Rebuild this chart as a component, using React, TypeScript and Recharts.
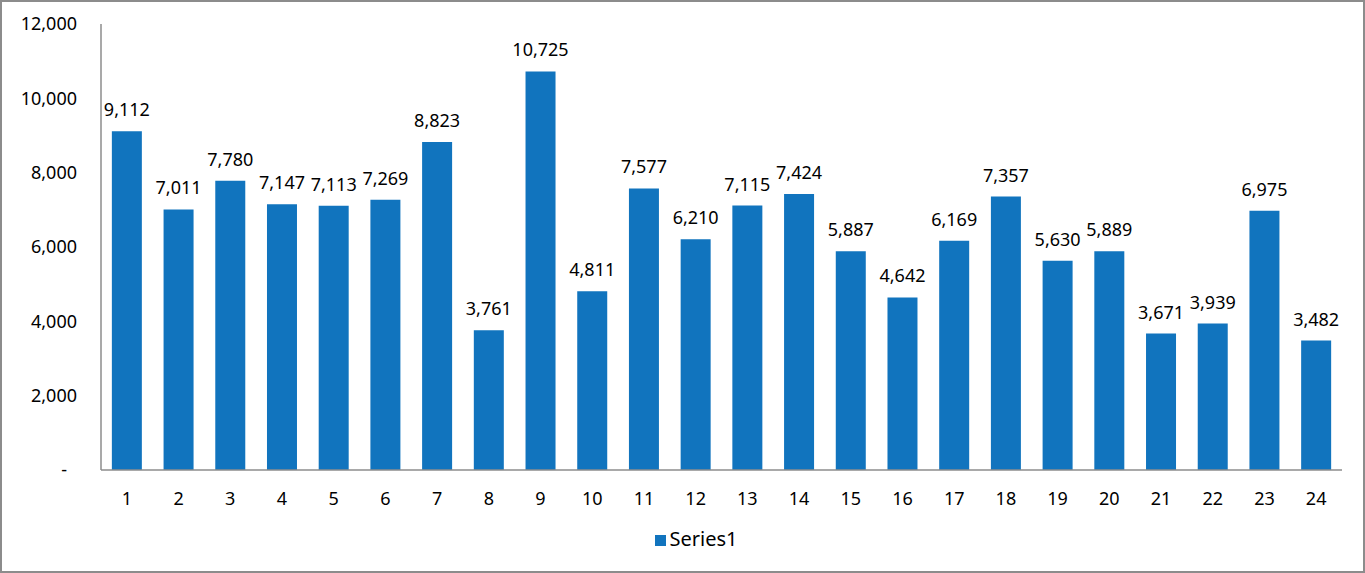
import React from "react";
import { BarChart, Bar, XAxis, YAxis, Legend, LabelList } from "recharts";

const categories = ["1","2","3","4","5","6","7","8","9","10","11","12","13","14","15","16","17","18","19","20","21","22","23","24"];
const series1 = [9112,7011,7780,7147,7113,7269,8823,3761,10725,4811,7577,6210,7115,7424,5887,4642,6169,7357,5630,5889,3671,3939,6975,3482];
const yTicks = [0,2000,4000,6000,8000,10000,12000];

const data = categories.map((c, i) => ({ name: c, Series1: series1[i] }));
const fmt = (v: number) => (v === 0 ? "-" : v.toLocaleString("en-US"));
const FONT = "'Noto Sans', sans-serif";

const YTick = (props: any) => {
  const { x, y, payload } = props;
  const zero = payload.value === 0;
  return (
    <text x={zero ? x - 10 : x} y={y} dy="0.355em" textAnchor="end" fill="#000" fontSize={18} fontFamily={FONT}>
      {fmt(payload.value)}
    </text>
  );
};

export default function App() {
  return (
    <div style={{ position: "absolute", left: 0, top: 0, width: 1365, height: 573, background: "#fff" }}>
      <BarChart
        width={1365}
        height={573}
        data={data}
        margin={{ top: 24, right: 23, left: 0, bottom: 21 }}
        barCategoryGap="21%"
        style={{ fontFamily: FONT }}
      >
        <YAxis
          width={101}
          domain={[0, 12000]}
          ticks={yTicks}
          axisLine={{ stroke: "#8c8c8c", strokeWidth: 1.5 }}
          tickLine={false}
          tickSize={0}
          tickMargin={24}
          tick={<YTick />}
        />
        <XAxis
          dataKey="name"
          height={55}
          axisLine={{ stroke: "#8c8c8c", strokeWidth: 1.5 }}
          tickLine={false}
          tickSize={0}
          tickMargin={22}
          tick={{ fill: "#000", fontSize: 18, fontFamily: FONT }}
          interval={0}
        />
        <Legend
          verticalAlign="bottom"
          iconType="square"
          iconSize={11}
          wrapperStyle={{ fontFamily: FONT, fontSize: 20, color: "#000", paddingLeft: 30 }}
          formatter={(v) => <span style={{ color: "#000" }}>{v}</span>}
        />
        <Bar dataKey="Series1" fill="#1174BE" isAnimationActive={false}>
          <LabelList dataKey="Series1" position="top" offset={15} formatter={(v: any) => fmt(Number(v))} style={{ fill: "#000", fontSize: 18, fontFamily: FONT }} />
        </Bar>
      </BarChart>
      <div style={{ position: "absolute", left: 0, top: 0, width: 1365, height: 573, boxSizing: "border-box", border: "2px solid #8c8c8c", pointerEvents: "none" }} />
    </div>
  );
}
